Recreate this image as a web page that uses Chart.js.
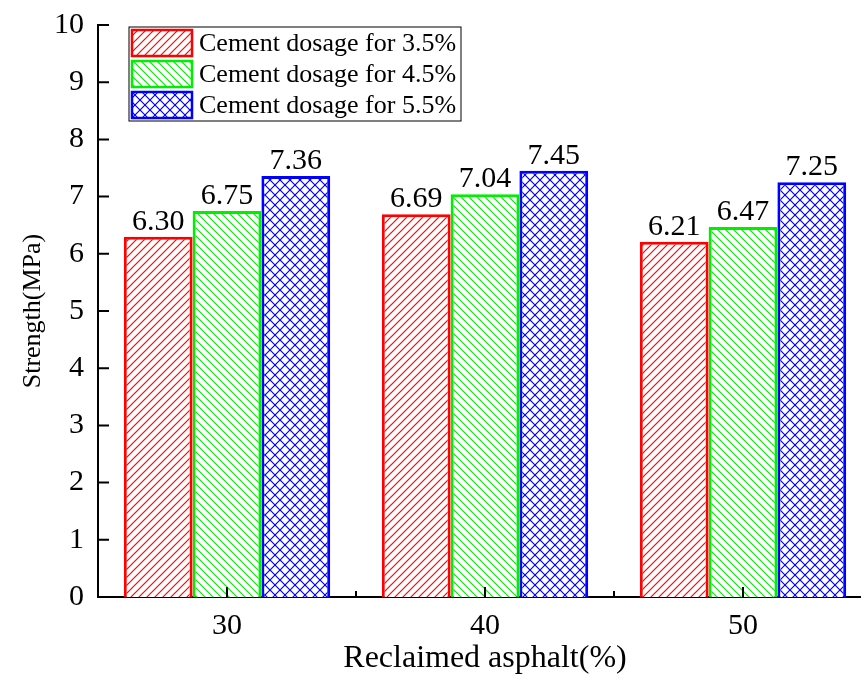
<!DOCTYPE html>
<html>
<head>
<meta charset="utf-8">
<script src="https://cdn.jsdelivr.net/npm/chart.js@4.4.0/dist/chart.umd.min.js"></script>
<style>
  body { margin: 0; overflow: hidden; background: #fff; }
  #wrap { width: 900px; height: 675px; }
</style>
</head>
<body>
<div id="wrap"><canvas id="myChart"></canvas></div>
<script>
const categories = ["30", "40", "50"];
const seriesNames = ["Cement dosage for 3.5%", "Cement dosage for 4.5%", "Cement dosage for 5.5%"];
const dose35 = [6.30, 6.69, 6.21];
const dose45 = [6.75, 7.04, 6.47];
const dose55 = [7.36, 7.45, 7.25];
const yTicks = [0, 1, 2, 3, 4, 5, 6, 7, 8, 9, 10];

const serif = "'Liberation Serif', 'Times New Roman', serif";

// hatch patterns like the origin plot
function makeHatch(color, kind) {
  const size = kind === "cross" ? 10 : 8;
  const c = document.createElement("canvas");
  c.width = size;
  c.height = size;
  const g = c.getContext("2d");
  g.fillStyle = "#fff";
  g.fillRect(0, 0, size, size);
  g.strokeStyle = color;
  g.lineWidth = 1.2;
  function fwd() {
    g.beginPath();
    g.moveTo(0, size); g.lineTo(size, 0);
    g.moveTo(-size, size); g.lineTo(size, -size);
    g.moveTo(0, 2 * size); g.lineTo(2 * size, 0);
    g.stroke();
  }
  function back() {
    g.beginPath();
    g.moveTo(0, 0); g.lineTo(size, size);
    g.moveTo(-size, 0); g.lineTo(size, 2 * size);
    g.moveTo(0, -size); g.lineTo(2 * size, size);
    g.stroke();
  }
  if (kind === "fwd") fwd();
  if (kind === "back") back();
  if (kind === "cross") { fwd(); back(); }
  return g.createPattern(c, "repeat");
}

const ctx = document.getElementById("myChart").getContext("2d");

const innerTicks = {
  id: "innerTicks",
  afterDraw(chart) {
    const c = chart.ctx;
    const x = chart.scales.x;
    const y = chart.scales.y;
    c.save();
    c.strokeStyle = "#000";
    c.lineWidth = 2;
    c.beginPath();
    yTicks.forEach((v) => {
      const py = y.getPixelForValue(v);
      c.moveTo(x.left, py);
      c.lineTo(x.left + 11, py);
    });
    categories.forEach((cat, i) => {
      const px = x.getPixelForValue(i);
      c.moveTo(px, y.bottom);
      c.lineTo(px, y.bottom - 10);
      const pb = x.getPixelForValue(i + 0.5);
      c.moveTo(pb, y.bottom);
      c.lineTo(pb, y.bottom - 6);
    });
    c.stroke();
    c.restore();
  },
};

const valueLabels = {
  id: "valueLabels",
  afterDatasetsDraw(chart) {
    const c = chart.ctx;
    c.save();
    c.font = "30px " + serif;
    c.fillStyle = "#000";
    c.textAlign = "center";
    c.textBaseline = "bottom";
    chart.data.datasets.forEach((ds, i) => {
      chart.getDatasetMeta(i).data.forEach((bar, j) => {
        c.fillText(ds.data[j].toFixed(2), bar.x, bar.y);
      });
    });
    c.restore();
  },
};

const boxLegend = {
  id: "boxLegend",
  afterDraw(chart) {
    const c = chart.ctx;
    const a = chart.chartArea;
    const left = a.left + 31, top = a.top + 2;
    c.save();
    c.strokeStyle = "#000";
    c.lineWidth = 1;
    c.strokeRect(left, top, 332, 94);
    c.font = "26px " + serif;
    c.textBaseline = "middle";
    chart.data.datasets.forEach((ds, i) => {
      const ry = top + 3 + i * 31;
      c.fillStyle = ds.backgroundColor;
      c.fillRect(left + 3, ry, 60, 26);
      c.strokeStyle = ds.borderColor;
      c.lineWidth = 2.5;
      c.strokeRect(left + 3, ry, 60, 26);
      c.fillStyle = "#000";
      c.fillText(ds.label, left + 70, ry + 14);
    });
    c.restore();
  },
};

const myChart = new Chart(ctx, {
  type: "bar",
  data: {
    labels: categories,
    datasets: [
      { label: seriesNames[0], data: dose35, backgroundColor: makeHatch("#ff0000", "fwd"), borderColor: "#ff0000" },
      { label: seriesNames[1], data: dose45, backgroundColor: makeHatch("#00ee00", "back"), borderColor: "#00ee00" },
      { label: seriesNames[2], data: dose55, backgroundColor: makeHatch("#0000ff", "cross"), borderColor: "#0000ff" },
    ].map((d) => Object.assign(d, { borderWidth: 3, categoryPercentage: 0.8, barPercentage: 1.0 })),
  },
  options: {
    responsive: true,
    maintainAspectRatio: false,
    animation: false,
    layout: { padding: { top: 25, right: 28, left: 0, bottom: 0 } },
    plugins: {
      legend: { display: false },
      tooltip: { enabled: false },
    },
    scales: {
      x: {
        grid: { display: false },
        border: { display: true, color: "#000", width: 2 },
        ticks: { color: "#000", font: { family: serif, size: 30 }, padding: 3 },
        title: { display: true, text: "Reclaimed asphalt(%)", color: "#000", font: { family: serif, size: 32, lineHeight: 1 }, padding: { top: 4, bottom: 0 } },
        afterFit(scale) { scale.height = 78; },
      },
      y: {
        min: 0,
        max: 10,
        grid: { display: false },
        border: { display: true, color: "#000", width: 2 },
        ticks: { stepSize: 1, color: "#000", font: { family: serif, size: 30 }, padding: 6 },
        title: { display: true, text: "Strength(MPa)", color: "#000", font: { family: serif, size: 26 }, padding: { top: 18, bottom: 0 } },
        afterFit(scale) { scale.width = 98; },
      },
    },
  },
  plugins: [innerTicks, valueLabels, boxLegend],
});
</script>
</body>
</html>
